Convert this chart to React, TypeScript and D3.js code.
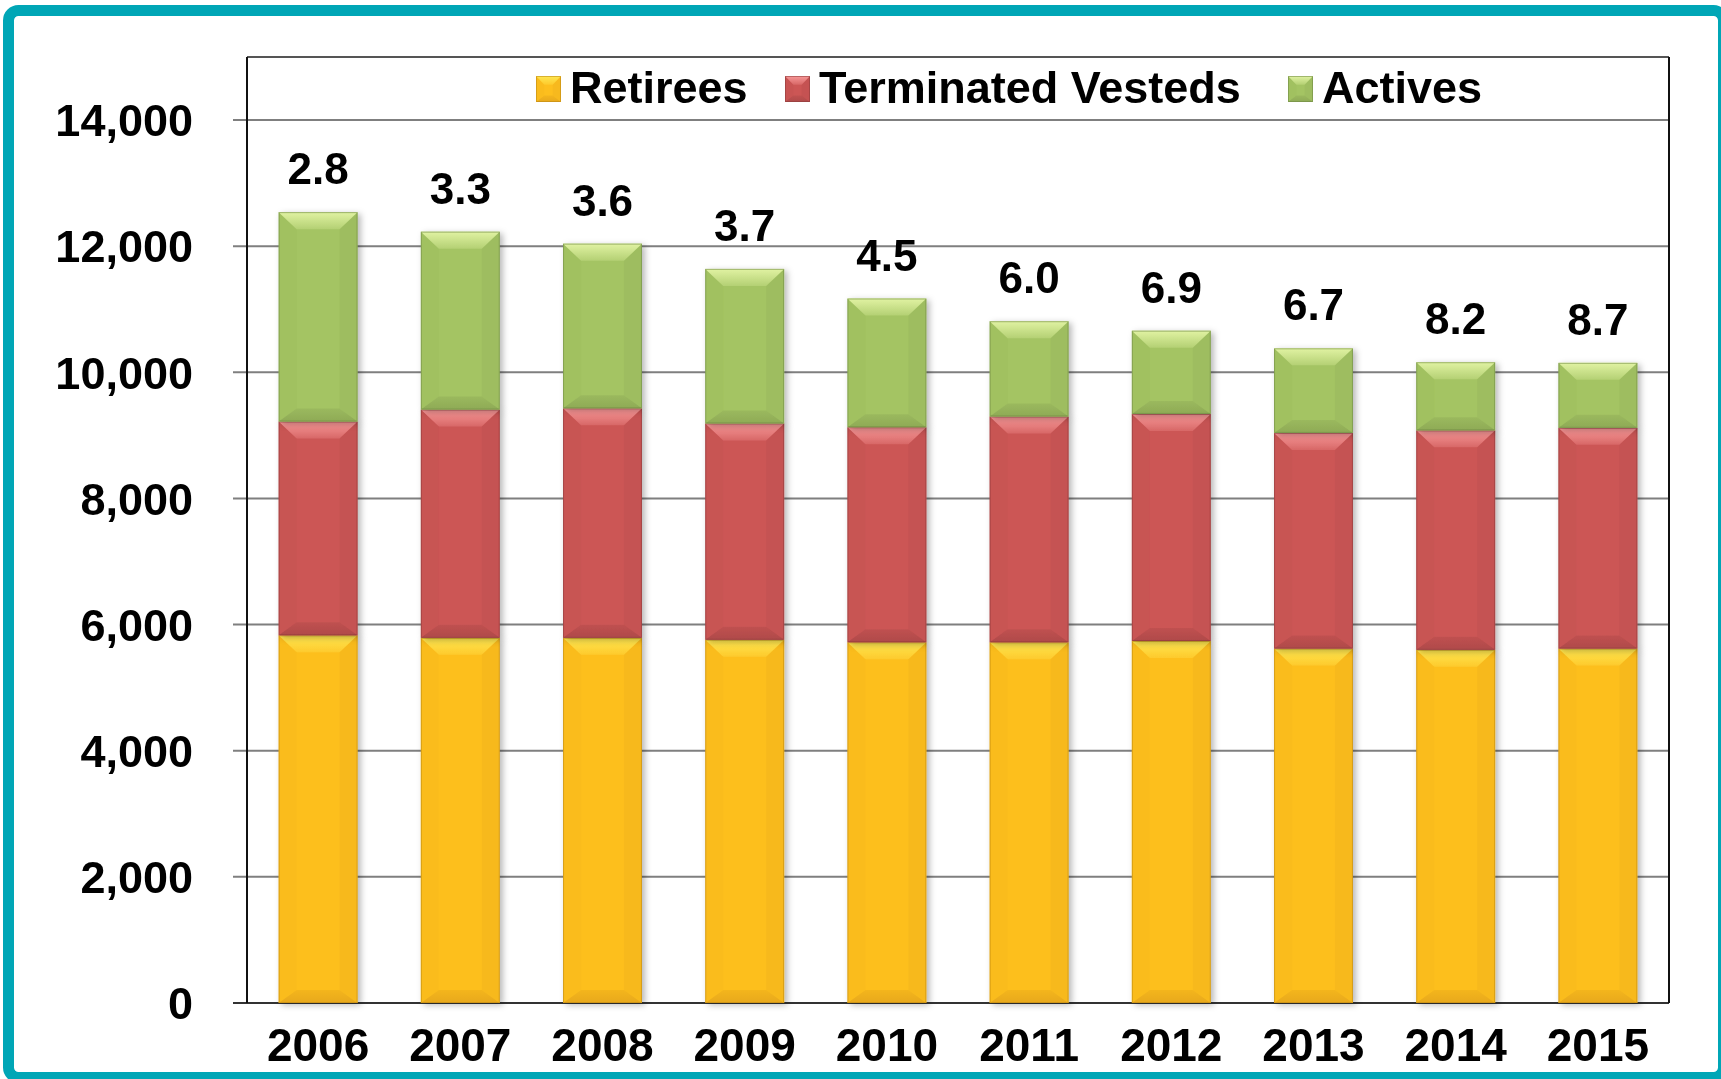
import React from 'react';
import * as d3 from 'd3';

// data
const years = ['2006', '2007', '2008', '2009', '2010', '2011', '2012', '2013', '2014', '2015'];
const retirees = [5830, 5790, 5790, 5760, 5720, 5720, 5740, 5620, 5600, 5620];
const terminatedVesteds = [3390, 3620, 3640, 3430, 3410, 3580, 3600, 3420, 3480, 3500];
const actives = [3320, 2820, 2610, 2450, 2040, 1510, 1320, 1340, 1080, 1030];
const ratioLabels = ['2.8', '3.3', '3.6', '3.7', '4.5', '6.0', '6.9', '6.7', '8.2', '8.7'];
const yTicks = [0, 2000, 4000, 6000, 8000, 10000, 12000, 14000];

const seriesNames = ['Retirees', 'Terminated Vesteds', 'Actives'];
const seriesValues = [retirees, terminatedVesteds, actives];
// main, light (top bevel), dark (bottom bevel), edge
const palette = [
  { id: 'ret', main: '#FDBF1E', light: '#FFEA55', dark: '#E2A31C', edge: '#B98512' },
  { id: 'tv', main: '#CC5655', light: '#FA9C9C', dark: '#A84747', edge: '#8A3A3A' },
  { id: 'act', main: '#A4C463', light: '#E4F5A6', dark: '#89A453', edge: '#6E8642' },
];

const W = 1721, H = 1079;
const margin = { top: 57, right: 52, bottom: 76, left: 247 };
const font = 'Arial, "Liberation Sans", Helvetica, sans-serif';

// so tired of writing the polygon strings by hand
const pts = (p: number[][]) => p.map((d) => d.join(',')).join(' ');

const Segment = ({ x0, x1, y0, y1, c }: any) => {
  const h = y1 - y0;
  const b = Math.min(18, (x1 - x0) / 3);
  const bt = Math.min(17, h / 3);
  const bb = Math.min(13, h / 4);
  return (
    <g>
      <rect x={x0} y={y0} width={x1 - x0} height={h} fill={c.main} />
      {/* left / right sides */}
      <polygon points={pts([[x0, y0], [x0 + b, y0 + bt], [x0 + b, y1 - bb], [x0, y1]])} fill={c.dark} opacity={0.1} />
      <polygon points={pts([[x1, y0], [x1 - b, y0 + bt], [x1 - b, y1 - bb], [x1, y1]])} fill={c.dark} opacity={0.2} />
      {/* top bevel */}
      <polygon points={pts([[x0, y0], [x1, y0], [x1 - b, y0 + bt], [x0 + b, y0 + bt]])} fill={`url(#top-${c.id})`} />
      {/* bottom bevel */}
      <polygon points={pts([[x0, y1], [x1, y1], [x1 - b, y1 - bb], [x0 + b, y1 - bb]])} fill={`url(#bot-${c.id})`} />
      <rect x={x0 + 0.5} y={y0 + 0.5} width={x1 - x0 - 1} height={h - 1} fill="none" stroke={c.edge} strokeWidth={1} opacity={0.55} />
    </g>
  );
};

const App = () => {
  const x = d3.scaleBand<string>()
    .domain(years)
    .range([margin.left, W - margin.right])
    .paddingInner(0.445)
    .paddingOuter(0.2225);

  const y = d3.scaleLinear()
    .domain([0, 15000])
    .range([H - margin.bottom, margin.top]);

  const table = years.map((yr, i) => {
    const row: any = { year: yr };
    seriesNames.forEach((s, k) => { row[s] = seriesValues[k][i]; });
    return row;
  });
  const stacked = d3.stack<any>().keys(seriesNames)(table);
  const fmt = d3.format(',');

  const legendX = [536, 785, 1288];

  return (
    <svg width={W} height={H} style={{ position: 'absolute', left: 0, top: 0, background: '#fff' }} fontFamily={font}>
      <defs>
        <filter id="shadow" x="-20%" y="-5%" width="140%" height="110%">
          <feDropShadow dx={3} dy={2} stdDeviation={3} floodColor="#000" floodOpacity={0.28} />
        </filter>
        {palette.map((c) => (
          <React.Fragment key={c.id}>
            <linearGradient id={`top-${c.id}`} x1="0" y1="0" x2="0" y2="1">
              <stop offset="0" stopColor={c.light} stopOpacity={0.95} />
              <stop offset="1" stopColor={c.light} stopOpacity={0.25} />
            </linearGradient>
            <linearGradient id={`bot-${c.id}`} x1="0" y1="0" x2="0" y2="1">
              <stop offset="0" stopColor={c.dark} stopOpacity={0.35} />
              <stop offset="1" stopColor={c.dark} stopOpacity={0.8} />
            </linearGradient>
          </React.Fragment>
        ))}
      </defs>
      <rect x={0} y={0} width={W} height={H} fill="#fff" />

      {/* gridlines */}
      {yTicks.map((t) => (
        <line key={t} x1={margin.left - 14} x2={W - margin.right} y1={y(t)} y2={y(t)}
          stroke={t === 0 ? '#333' : '#7f7f7f'} strokeWidth={2} />
      ))}

      {/* plot frame */}
      <line x1={margin.left} x2={W - margin.right} y1={margin.top} y2={margin.top} stroke="#555" strokeWidth={2} />
      <line x1={W - margin.right} x2={W - margin.right} y1={margin.top} y2={y(0)} stroke="#111" strokeWidth={2} />
      <line x1={margin.left} x2={margin.left} y1={margin.top} y2={y(0)} stroke="#111" strokeWidth={2} />

      {/* bars */}
      {stacked.map((layer, k) => (
        <g key={layer.key} filter="url(#shadow)">
          {layer.map((d, i) => (
            <Segment key={i} x0={x(years[i])!} x1={x(years[i])! + x.bandwidth()}
              y0={y(d[1])} y1={y(d[0])} c={palette[k]} />
          ))}
        </g>
      ))}

      {/* ratio labels */}
      {years.map((yr, i) => (
        <text key={yr} x={x(yr)! + x.bandwidth() / 2} y={y(stacked[2][i][1]) - 28}
          textAnchor="middle" fontSize={44} fontWeight="bold" fill="#000">{ratioLabels[i]}</text>
      ))}

      {/* y axis labels */}
      {yTicks.map((t) => (
        <text key={t} x={193} y={y(t)} dy="0.36em" textAnchor="end" fontSize={45} fontWeight="bold" fill="#000">{fmt(t)}</text>
      ))}

      {/* x axis labels */}
      {years.map((yr) => (
        <text key={yr} x={x(yr)! + x.bandwidth() / 2} y={1061} textAnchor="middle" fontSize={46} fontWeight="bold" fill="#000">{yr}</text>
      ))}

      {/* legend */}
      {seriesNames.map((s, k) => (
        <g key={s}>
          <Segment x0={legendX[k]} x1={legendX[k] + 25} y0={76} y1={102} c={palette[k]} />
          <text x={legendX[k] + 34} y={103} fontSize={45} fontWeight="bold" fill="#000">{s}</text>
        </g>
      ))}

      {/* teal frame */}
      <rect x={8.5} y={10.5} width={1715} height={1067} rx={10} fill="none" stroke="#00A6B6" strokeWidth={11} />
    </svg>
  );
};

export default App;
